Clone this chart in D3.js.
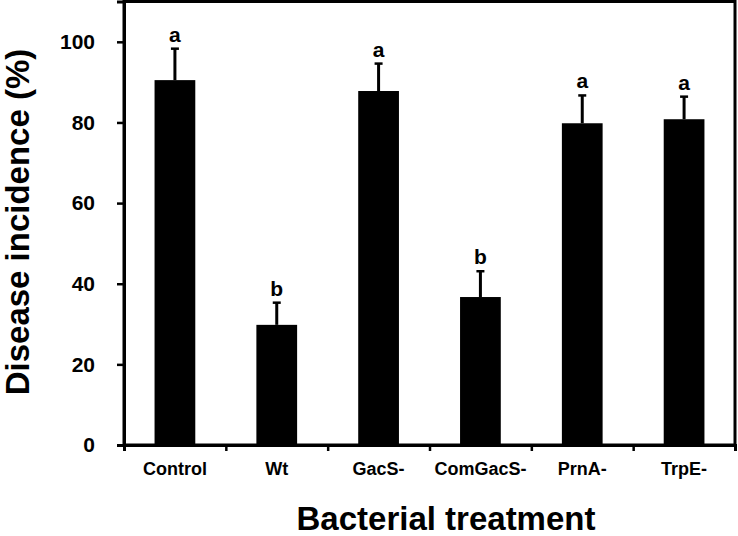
<!DOCTYPE html>
<html>
<head>
<meta charset="utf-8">
<script src="https://cdn.jsdelivr.net/npm/d3@7"></script>
<style>
  body { margin: 0; background: #fff; }
  svg text { font-family: "Liberation Sans", Arial, sans-serif; font-weight: bold; fill: #000; }
</style>
</head>
<body>
<script>
// treatments and mean disease incidence (%), with upward SE bar
let categories = ['Control', 'Wt', 'GacS-', 'ComGacS-', 'PrnA-', 'TrpE-']
let means = [90.5, 29.8, 87.8, 36.7, 79.8, 80.8]
let errors = [7.8, 5.5, 6.8, 6.4, 6.9, 5.6]
let letters = ['a', 'b', 'a', 'b', 'a', 'a']
let yTicks = [0, 20, 40, 60, 80, 100]

let width = 738, height = 536
let margin = { top: 1.5, right: 3, bottom: 91, left: 124 }

let svg = d3.select('body').append('svg')
  .attr('width', width)
  .attr('height', height)

let x = d3.scaleBand()
  .domain(categories)
  .range([margin.left, width - margin.right])
  .paddingInner(0.6)
  .paddingOuter(0.3)

// separators between the treatments
let xSep = d3.scaleLinear()
  .domain([0, categories.length])
  .range([margin.left, width - margin.right])

let y = d3.scaleLinear()
  .domain([0, 110])
  .range([height - margin.bottom, margin.top])

let data = categories.map((c, i) => ({ cat: c, v: means[i], e: errors[i], l: letters[i] }))

// frame
svg.append('rect')
  .attr('x', margin.left)
  .attr('y', margin.top)
  .attr('width', width - margin.right - margin.left)
  .attr('height', height - margin.bottom - margin.top)
  .attr('fill', 'none')
  .attr('stroke', '#000')
  .attr('stroke-width', 3)

// bars
svg.append('g').selectAll('rect').data(data).enter()
  .append('rect')
  .attr('x', d => x(d.cat))
  .attr('y', d => y(d.v))
  .attr('width', x.bandwidth())
  .attr('height', d => y(0) - y(d.v))
  .attr('fill', '#000')

// error bars (upper only)
let eb = svg.append('g').selectAll('g').data(data).enter().append('g')
eb.append('line')
  .attr('x1', d => x(d.cat) + x.bandwidth() / 2)
  .attr('x2', d => x(d.cat) + x.bandwidth() / 2)
  .attr('y1', d => y(d.v))
  .attr('y2', d => y(d.v + d.e))
  .attr('stroke', '#000')
  .attr('stroke-width', 3)
eb.append('line')
  .attr('x1', d => x(d.cat) + x.bandwidth() / 2 - 4)
  .attr('x2', d => x(d.cat) + x.bandwidth() / 2 + 4)
  .attr('y1', d => y(d.v + d.e))
  .attr('y2', d => y(d.v + d.e))
  .attr('stroke', '#000')
  .attr('stroke-width', 2.5)

// significance letters
svg.append('g').selectAll('text').data(data).enter()
  .append('text')
  .attr('x', d => x(d.cat) + x.bandwidth() / 2)
  .attr('y', d => y(d.v + d.e) - 7)
  .attr('text-anchor', 'middle')
  .style('font-size', '21px')
  .text(d => d.l)

// y axis
let yAxis = svg.append('g')
  .attr('transform', `translate(${margin.left},0)`)
  .call(d3.axisLeft(y).tickValues(yTicks).tickSize(7).tickPadding(22))
yAxis.select('.domain').attr('stroke-width', 3)
yAxis.selectAll('.tick line').attr('stroke-width', 2.5)
yAxis.selectAll('text').style('font-size', '21px')

// x axis: separator ticks
let xAxis = svg.append('g')
  .attr('transform', `translate(0,${y(0)})`)
  .call(d3.axisBottom(xSep).ticks(categories.length).tickSize(6).tickFormat(() => ''))
xAxis.select('.domain').attr('stroke-width', 3)
xAxis.selectAll('.tick line').attr('stroke-width', 2.5)

// x axis: category labels
let xLab = svg.append('g')
  .attr('transform', `translate(0,${y(0)})`)
  .call(d3.axisBottom(x).tickSize(0).tickPadding(17))
xLab.select('.domain').remove()
xLab.selectAll('text').style('font-size', '18px')

// axis titles
svg.append('text')
  .attr('x', 446)
  .attr('y', 530)
  .attr('text-anchor', 'middle')
  .style('font-size', '33px')
  .text('Bacterial treatment')

svg.append('text')
  .attr('transform', 'translate(29,222) rotate(-90)')
  .attr('text-anchor', 'middle')
  .style('font-size', '33px')
  .text('Disease incidence (%)')
</script>
</body>
</html>
